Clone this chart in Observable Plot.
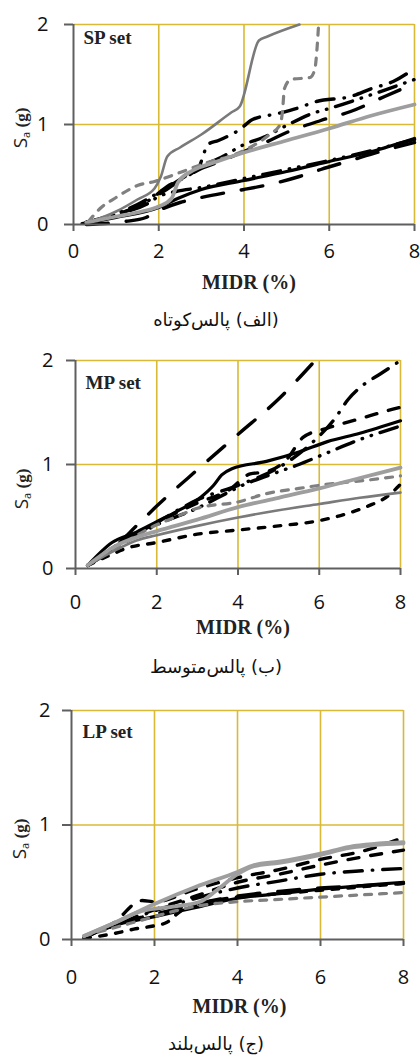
<!DOCTYPE html>
<html>
<head>
<meta charset="utf-8">
<script src="https://cdn.jsdelivr.net/npm/d3@7"></script>
<script src="https://cdn.jsdelivr.net/npm/@observablehq/plot@0.6"></script>
<style>
  body { margin: 0; background: #fff; }
  #root { position: relative; width: 420px; height: 1058px; overflow: hidden; background: #fff; }
  .panel { position: absolute; left: 0; }
  .cap { position: absolute; left: 0; width: 432px; text-align: center; direction: rtl;
         font-family: "DejaVu Sans", "Noto Sans", sans-serif; font-size: 18px; color: #111; line-height: 22px; }
  .panel g[aria-label$="tick label"] text { font-size: 20px; font-family: 'Open Sans', sans-serif; }
</style>
</head>
<body>
<div id="root"></div>
<script>
// ---------- axis ticks ----------
const X_TICKS = [0, 2, 4, 6, 8];
const Y_TICKS = [0, 1, 2];
const GRID_X = [2, 4, 6, 8];
const GRID_Y = [1, 2];

// ---------- panel titles / captions ----------
const SET_NAMES = ["SP set", "MP set", "LP set"];
const CAPTIONS = ["(الف) پالس‌کوتاه", "(ب) پالس‌متوسط", "(ج) پالس‌بلند"];
const X_LABEL = "MIDR (%)";

// ---------- SP set (short pulse) : [MIDR %, Sa g] ----------
const sp_blackSolid = [[0.2,0.01],[1,0.07],[2,0.17],[2.5,0.27],[3,0.35],[4,0.44],[5,0.53],[6,0.63],[7,0.73],[8,0.86]];
const sp_blackDashDotLow = [[0.3,0.02],[1,0.1],[1.7,0.2],[2,0.28],[2.4,0.33],[3,0.37],[4,0.46],[5,0.55],[6,0.64],[7,0.74],[8,0.85]];
const sp_blackLongDashLow = [[0.3,0.0],[1.2,0.03],[1.7,0.07],[2.0,0.14],[2.5,0.22],[3,0.27],[3.6,0.32],[4,0.35],[4.7,0.41],[5.3,0.48],[5.8,0.55],[6.5,0.64],[7.2,0.73],[8,0.82]];
const sp_blackDashDotTop = [[0.3,0.02],[1,0.1],[1.8,0.25],[2.2,0.38],[2.6,0.47],[2.95,0.58],[3.05,0.7],[3.15,0.8],[3.4,0.84],[3.9,0.95],[4.2,1.05],[4.8,1.11],[5.3,1.17],[5.7,1.23],[6.5,1.28],[7,1.36],[7.5,1.43],[8,1.56]];
const sp_blackDashDotDotMid = [[0.3,0.02],[1.5,0.2],[2,0.32],[2.5,0.45],[3,0.58],[3.5,0.68],[4,0.8],[4.5,0.88],[5,0.99],[5.6,1.11],[6,1.16],[7,1.3],[8,1.45]];
const sp_blackLongDashMid = [[0.3,0.02],[1.5,0.18],[2,0.3],[2.5,0.44],[3,0.56],[3.5,0.64],[4,0.73],[4.5,0.82],[5,0.92],[5.8,1.04],[6.5,1.13],[7.3,1.28],[8,1.41]];
const sp_grayThin = [[0.35,0.02],[1,0.13],[1.5,0.25],[1.9,0.36],[2.05,0.48],[2.2,0.68],[2.5,0.77],[3,0.9],[3.7,1.12],[3.9,1.18],[4.35,1.84],[4.55,1.88],[5.3,2.0]];
const sp_grayDash = [[0.35,0.03],[0.65,0.17],[1.0,0.27],[1.5,0.39],[1.9,0.43],[2.5,0.52],[3,0.6],[4,0.74],[4.6,0.9],[4.85,1.0],[4.9,1.12],[4.95,1.36],[5.1,1.45],[5.55,1.47],[5.66,1.55],[5.72,1.8],[5.75,2.0]];
const sp_grayThick = [[0.3,0.02],[1,0.08],[1.6,0.13],[2,0.18],[2.3,0.26],[2.45,0.42],[2.8,0.54],[3.3,0.62],[4,0.72],[5,0.84],[6,0.96],[7,1.09],[8,1.2]];

// ---------- MP set (medium pulse) ----------
const mp_blackLongDash = [[0.3,0.03],[1,0.22],[1.5,0.41],[2,0.6],[3,0.95],[4,1.29],[5,1.63],[5.9,2.0]];
const mp_blackDashDotTop = [[0.3,0.03],[1,0.22],[2,0.44],[2.6,0.58],[3,0.66],[4,0.8],[5,0.97],[5.8,1.2],[6.4,1.45],[6.7,1.62],[7.1,1.77],[7.5,1.87],[8,2.0]];
const mp_blackSolid = [[0.3,0.03],[0.9,0.25],[1.5,0.35],[2,0.45],[2.5,0.55],[3.1,0.69],[3.4,0.8],[3.6,0.9],[3.85,0.96],[4.7,1.03],[5.5,1.12],[6.2,1.22],[7,1.3],[8,1.42]];
const mp_blackDashMid = [[0.3,0.03],[1,0.22],[2,0.44],[3,0.63],[3.8,0.76],[4.3,0.91],[4.7,0.93],[5.2,1.05],[5.6,1.26],[6.2,1.35],[7,1.44],[7.7,1.52],[8,1.55]];
const mp_blackDashDotDot = [[0.3,0.03],[1,0.2],[2,0.42],[3,0.58],[3.7,0.72],[4,0.78],[5,0.93],[5.5,1.0],[6,1.08],[7,1.24],[8,1.37]];
const mp_blackShortDash = [[0.3,0.03],[0.8,0.12],[1.3,0.2],[2,0.25],[3,0.33],[4,0.37],[5,0.41],[6,0.46],[6.7,0.53],[7.2,0.6],[7.7,0.7],[8,0.81]];
const mp_grayThin = [[0.3,0.03],[1,0.18],[1.5,0.27],[2,0.32],[3,0.41],[4,0.49],[5,0.56],[6,0.62],[7,0.68],[8,0.73]];
const mp_grayDash = [[0.3,0.03],[1,0.2],[2,0.42],[2.5,0.5],[3,0.58],[4,0.64],[4.7,0.72],[5.5,0.77],[6,0.8],[7.2,0.85],[8,0.89]];
const mp_grayThick = [[0.3,0.03],[1,0.22],[1.5,0.3],[2,0.36],[3,0.47],[4,0.59],[5,0.68],[6,0.77],[7,0.87],[8,0.97]];

// ---------- LP set (long pulse) ----------
const lp_blackSolid = [[0.3,0.02],[1,0.12],[2,0.2],[3,0.28],[4,0.36],[5,0.4],[6,0.44],[7,0.47],[8,0.5]];
const lp_blackLongDash = [[0.3,0.02],[1,0.13],[2,0.22],[3,0.31],[4,0.38],[5,0.42],[6,0.45],[7,0.47],[8,0.49]];
const lp_blackDashDot = [[0.3,0.02],[1,0.12],[2,0.25],[3,0.36],[4,0.45],[5,0.51],[6,0.57],[7,0.6],[8,0.62]];
const lp_blackDashTop = [[0.3,0.02],[1,0.14],[1.7,0.34],[2,0.33],[3,0.44],[4,0.54],[5,0.61],[6,0.7],[7,0.77],[8,0.89]];
const lp_blackDash2 = [[0.3,0.02],[1,0.12],[2,0.26],[3,0.38],[4,0.5],[5,0.57],[6,0.65],[7,0.72],[8,0.78]];
const lp_blackShortDash = [[0.3,0.01],[1,0.05],[1.5,0.09],[2,0.12],[2.3,0.15],[2.6,0.24],[3,0.3],[4,0.37],[5,0.4],[6,0.43],[7,0.46],[8,0.49]];
const lp_grayDash = [[0.3,0.03],[1,0.1],[2,0.2],[2.5,0.25],[3,0.29],[4,0.33],[5,0.35],[6,0.37],[7,0.39],[8,0.41]];
const lp_grayLow = [[0.3,0.03],[1,0.14],[1.7,0.25],[2.5,0.29],[3.1,0.33],[3.5,0.43],[4,0.57],[4.4,0.64],[5,0.67],[6,0.74],[6.7,0.8],[8,0.84]];
const lp_grayUp = [[0.3,0.03],[1,0.14],[2,0.31],[3,0.46],[4,0.59],[4.4,0.65],[5,0.68],[6,0.75],[6.7,0.81],[8,0.85]];

// ---------- line styles ----------
const STYLE = {
  blackSolid:    {stroke: "#000", strokeWidth: 3.2},
  blackLongDash: {stroke: "#000", strokeWidth: 3.4, strokeDasharray: "22,18"},
  blackDashDot:  {stroke: "#000", strokeWidth: 3.4, strokeDasharray: "18,10,0.5,10"},
  blackDashDotDot: {stroke: "#000", strokeWidth: 3.4, strokeDasharray: "18,9,0.5,9,0.5,9"},
  blackDash:     {stroke: "#000", strokeWidth: 3.4, strokeDasharray: "11,12"},
  blackShortDash:{stroke: "#000", strokeWidth: 3.4, strokeDasharray: "6.5,9.5"},
  grayThin:      {stroke: "#7a7a7a", strokeWidth: 2.6},
  grayDash:      {stroke: "#808080", strokeWidth: 3.2, strokeDasharray: "7,8"},
  grayThick:     {stroke: "#9e9e9e", strokeWidth: 3.8}
};

const GOLD = "#d8ba36";
const AXIS = "#5f5f5f";

const PANELS = [
  { name: SET_NAMES[0], caption: CAPTIONS[0],
    series: [[sp_blackSolid,"blackSolid"],[sp_blackDashDotLow,"blackDashDotDot"],[sp_blackLongDashLow,"blackLongDash"],
             [sp_blackDashDotTop,"blackDashDot"],[sp_blackDashDotDotMid,"blackDashDotDot"],[sp_blackLongDashMid,"blackLongDash"],
             [sp_grayDash,"grayDash"],[sp_grayThin,"grayThin"],[sp_grayThick,"grayThick"]],
    layout: {top: 0, height: 300, mL: 73, mR: 6, mT: 24, mB: 76, xTickPad: 12, yTickPad: 16,
             nameDx: 10, nameDy: 19, labDx: 5, labDy: 58, yLabX: 27, yLabY: 128, capY: 309} },
  { name: SET_NAMES[1], caption: CAPTIONS[1],
    series: [[mp_blackLongDash,"blackLongDash"],[mp_blackDashDotTop,"blackDashDot"],[mp_blackSolid,"blackSolid"],
             [mp_blackDashMid,"blackDash"],[mp_blackDashDotDot,"blackDashDotDot"],[mp_blackShortDash,"blackShortDash"],
             [mp_grayThin,"grayThin"],[mp_grayDash,"grayDash"],[mp_grayThick,"grayThick"]],
    layout: {top: 330, height: 310, mL: 75, mR: 20, mT: 30, mB: 72, xTickPad: 19, yTickPad: 13,
             nameDx: 10, nameDy: 28, labDx: 5, labDy: 59, yLabX: 28, yLabY: 489, capY: 656} },
  { name: SET_NAMES[2], caption: CAPTIONS[2],
    series: [[lp_blackShortDash,"blackShortDash"],[lp_blackLongDash,"blackLongDash"],[lp_blackSolid,"blackSolid"],
             [lp_blackDashDot,"blackDashDot"],[lp_blackDash2,"blackDash"],[lp_blackDashTop,"blackDash"],
             [lp_grayDash,"grayDash"],[lp_grayLow,"grayThick"],[lp_grayUp,"grayThick"]],
    layout: {top: 690, height: 340, mL: 71, mR: 17, mT: 20, mB: 91, xTickPad: 23, yTickPad: 12,
             nameDx: 11, nameDy: 27, labDx: 2, labDy: 67, yLabX: 26, yLabY: 839, capY: 1033} }
];

const root = document.getElementById("root");

for (const p of PANELS) {
  const L = p.layout;
  const lineMarks = p.series.map(([data, st]) =>
    Plot.line(data, {x: d => d[0], y: d => d[1], ...STYLE[st],
                     strokeLinecap: "round", strokeLinejoin: "round", curve: "monotone-x"}));
  const svg = Plot.plot({
    width: 420, height: L.height,
    marginLeft: L.mL, marginRight: L.mR, marginTop: L.mT, marginBottom: L.mB,
    x: {domain: [0, 8]},
    y: {domain: [0, 2]},
    style: {fontFamily: "'Open Sans', sans-serif", fontSize: "20px", background: "transparent", overflow: "visible"},
    marks: [
      Plot.ruleX(GRID_X, {stroke: GOLD, strokeWidth: 1.6}),
      Plot.ruleY(GRID_Y, {stroke: GOLD, strokeWidth: 1.6}),
      ...lineMarks,
      Plot.ruleX([0], {stroke: AXIS, strokeWidth: 2}),
      Plot.ruleY([0], {stroke: AXIS, strokeWidth: 2}),
      Plot.axisX(X_TICKS, {tickSize: 7, tickPadding: L.xTickPad, stroke: AXIS, strokeWidth: 2, fill: "#111",
                           fontSize: 20, fontFamily: "'Open Sans', sans-serif", label: null, tickFormat: d => String(d)}),
      Plot.axisY(Y_TICKS, {tickSize: 9, tickPadding: L.yTickPad, stroke: AXIS, strokeWidth: 2, fill: "#111",
                           fontSize: 20, fontFamily: "'Open Sans', sans-serif", label: null, tickFormat: d => String(d)}),
      Plot.text([p.name], {frameAnchor: "top-left", dx: L.nameDx, dy: L.nameDy, lineAnchor: "bottom", textAnchor: "start",
                           fontFamily: "'Liberation Serif', serif", fontWeight: "bold", fontSize: 19, fill: "#222"}),
      Plot.text([X_LABEL], {frameAnchor: "bottom", dx: L.labDx, dy: L.labDy, lineAnchor: "middle",
                            fontFamily: "'Liberation Serif', serif", fontWeight: "bold", fontSize: 20, fill: "#222"})
    ]
  });
  svg.classList.add("panel");
  svg.style.top = L.top + "px";
  // enforce tick label font
  d3.select(svg).selectAll('g[aria-label$="tick label"]').attr("font-size", 20).attr("font-family", "'Open Sans', sans-serif");
  // rotated y-axis label S_a (g)
  const t = d3.select(svg).append("text")
    .attr("transform", `translate(${L.yLabX},${L.yLabY - L.top}) rotate(-90)`)
    .attr("text-anchor", "middle")
    .attr("fill", "#222");
  t.append("tspan").attr("font-family", "'Open Sans', sans-serif").attr("font-size", 19).text("S");
  t.append("tspan").attr("font-family", "'Open Sans', sans-serif").attr("font-size", 11).attr("dy", 3).text("a");
  t.append("tspan").attr("font-family", "'Liberation Serif', serif").attr("font-weight", "bold").attr("font-size", 17).attr("dy", -3).text(" (g)");
  root.appendChild(svg);

  const cap = document.createElement("div");
  cap.className = "cap";
  cap.style.top = L.capY + "px";
  cap.textContent = p.caption;
  root.appendChild(cap);
}
</script>
</body>
</html>
